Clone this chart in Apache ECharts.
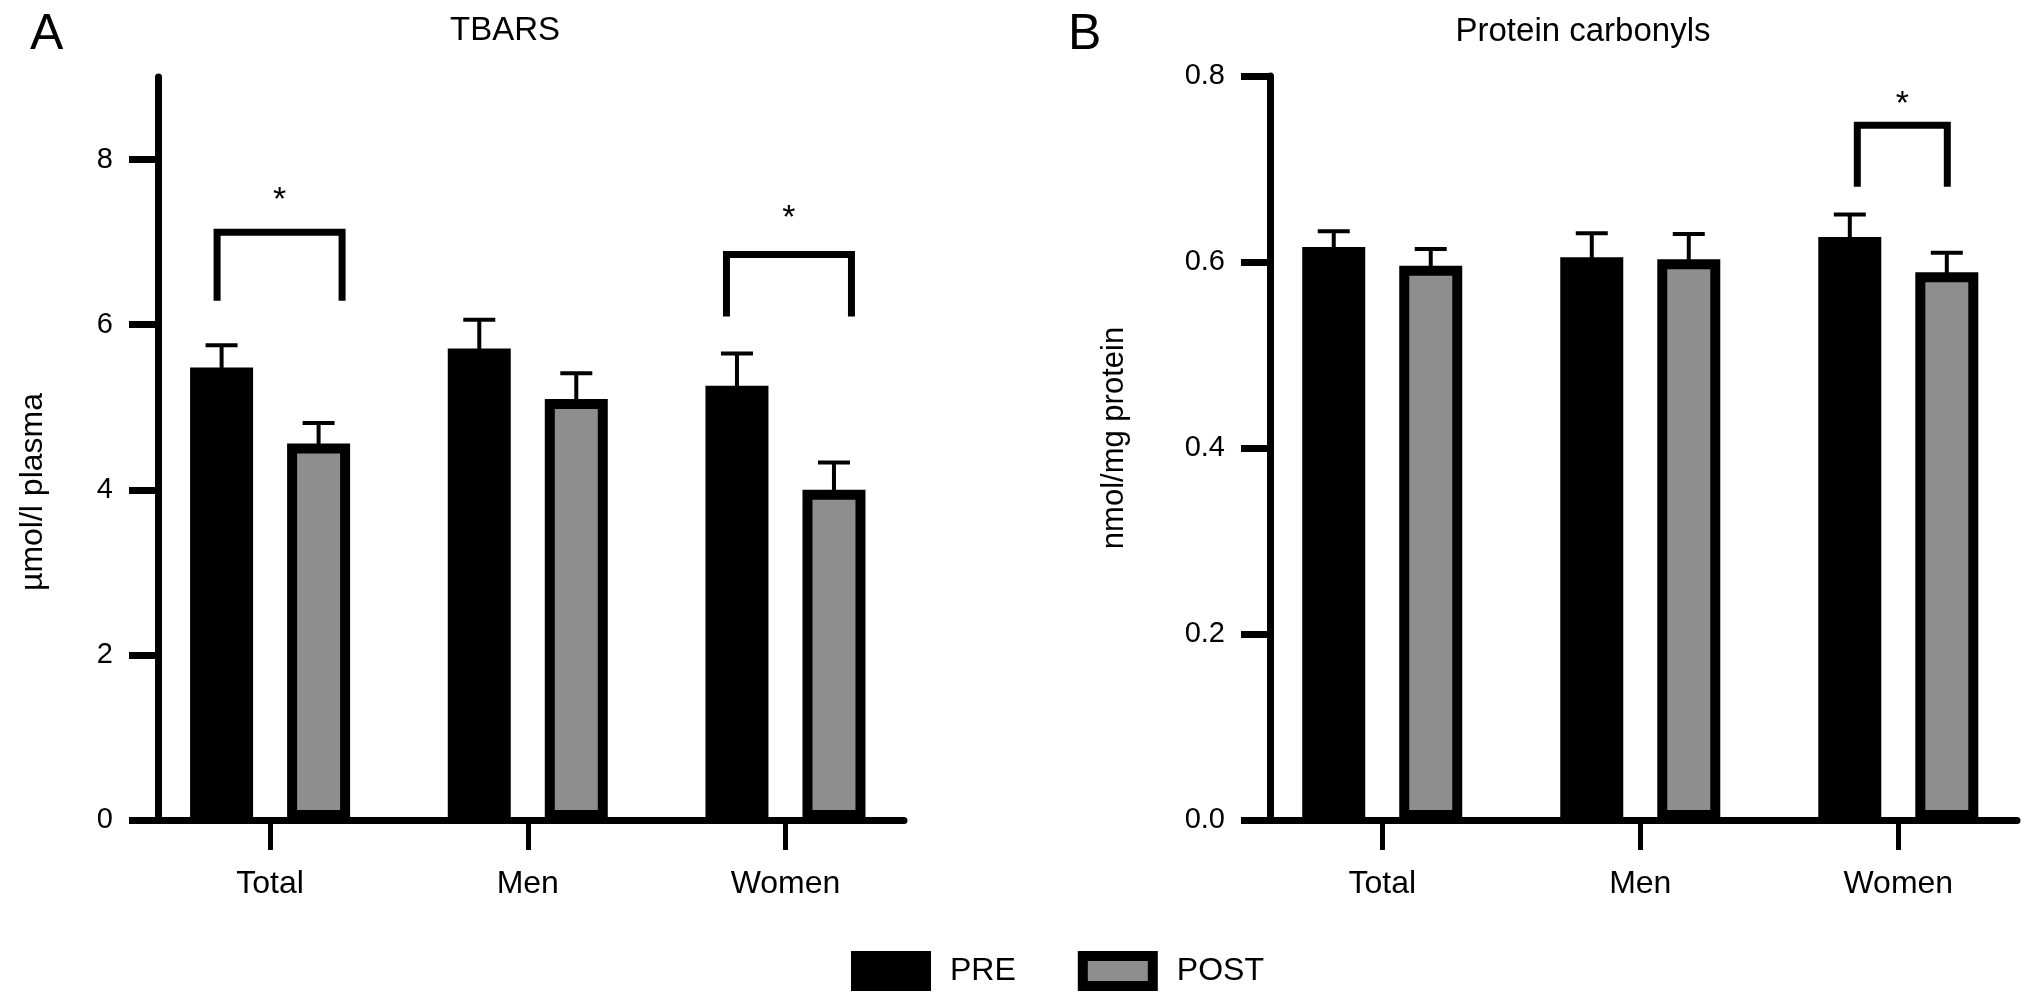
<!DOCTYPE html>
<html><head><meta charset="utf-8">
<script src="https://cdn.jsdelivr.net/npm/echarts@6/dist/echarts.min.js"></script>
<style>html,body{margin:0;padding:0;background:#fff}#chart{width:2032px;height:1000px}</style>
</head><body><div id="chart"></div>
<script>
// ---------------- DATA ----------------
const categories = ['Total', 'Men', 'Women'];
const legendNames = ['PRE', 'POST'];
// Panel A: TBARS (µmol/l plasma)
const tbarsPre     = [5.48, 5.71, 5.26];
const tbarsPost    = [4.56, 5.10, 4.00];
const tbarsPreErr  = [5.75, 6.06, 5.65];   // top of error bar (mean + SEM)
const tbarsPostErr = [4.81, 5.41, 4.33];
const tbarsTicks   = [0, 2, 4, 6, 8];
// Panel B: Protein carbonyls (nmol/mg protein)
const pcPre     = [0.616, 0.605, 0.627];
const pcPost    = [0.596, 0.603, 0.589];
const pcPreErr  = [0.633, 0.631, 0.651];
const pcPostErr = [0.614, 0.630, 0.610];
const pcTicks   = [0, 0.2, 0.4, 0.6, 0.8];
// significance brackets: [categoryIndex, legBottom, bracketTop, starLevel]
const tbarsSig = [[0, 6.29, 7.12, 7.50], [2, 6.10, 6.85, 7.29]];
const pcSig    = [[2, 0.681, 0.747, 0.769]];

// ---------------- STYLE ----------------
const FONT = 'Liberation Sans, Arial, Helvetica, sans-serif';
const BAR_W = 63, BAR_BORDER = 10, BAR_GAP_PX = 34;
const BAR_OFFSET = (BAR_W + BAR_GAP_PX) / 2;
const CAP = 32;
const PRE_COLOR = '#000000', POST_COLOR = '#8e8e8e';
// bracket leg offsets (px) from category centre, per bracket
const tbarsSigSpan = [[-53, 72], [-59, 66]];
const pcSigSpan = [[-41, 49]];

const chart = echarts.init(document.getElementById('chart'), null, {renderer: 'canvas'});

function xAxisCfg(gi) {
  return {
    type: 'value', gridIndex: gi, min: -0.435, max: 2.46,
    axisLine: {show: true, onZero: false, lineStyle: {color: '#000', width: 7}},
    axisTick: {show: true, customValues: [0, 1, 2], length: 30, lineStyle: {color: '#000', width: 5}},
    axisLabel: {show: true, customValues: [0, 1, 2], formatter: v => categories[Math.round(v)] || '',
      margin: 48, fontSize: 32, color: '#000', fontFamily: FONT},
    splitLine: {show: false}
  };
}
function yAxisCfg(gi, max, ticks, fmt) {
  return {
    type: 'value', gridIndex: gi, min: 0, max: max,
    axisLine: {show: true, onZero: false, lineStyle: {color: '#000', width: 7}},
    axisTick: {show: true, customValues: ticks, length: 29, lineStyle: {color: '#000', width: 7}},
    axisLabel: {show: true, customValues: ticks, formatter: fmt, margin: 45, fontSize: 29,
      color: '#000', fontFamily: FONT},
    splitLine: {show: false}
  };
}
function barSeries(name, gi, vals, color) {
  return {
    type: 'bar', name: name, xAxisIndex: gi, yAxisIndex: gi,
    data: vals.map((v, i) => [i, v]),
    barWidth: BAR_W, barGap: (BAR_GAP_PX / BAR_W * 100).toFixed(1) + '%',
    itemStyle: {color: color, borderColor: '#000', borderWidth: BAR_BORDER},
    emphasis: {disabled: true}, z: 2
  };
}
function errSeries(gi, pre, preErr, post, postErr) {
  const data = [];
  categories.forEach((c, i) => {
    data.push([i, pre[i], preErr[i], -1]);
    data.push([i, post[i], postErr[i], 1]);
  });
  return {
    type: 'custom', xAxisIndex: gi, yAxisIndex: gi, z: 4, silent: true, data: data,
    encode: {x: 0, y: [1, 2]},
    renderItem(params, api) {
      const x = api.value(0), s = api.value(3);
      const p0 = api.coord([x, api.value(1)]);
      const p1 = api.coord([x, api.value(2)]);
      const cx = p0[0] + s * BAR_OFFSET;
      return {type: 'group', children: [
        {type: 'line', shape: {x1: cx, y1: p0[1] + 2, x2: cx, y2: p1[1]}, style: {stroke: '#000', lineWidth: 4}},
        {type: 'line', shape: {x1: cx - CAP / 2, y1: p1[1], x2: cx + CAP / 2, y2: p1[1]}, style: {stroke: '#000', lineWidth: 4}}
      ]};
    }
  };
}
function sigSeries(gi, sig, spans) {
  return {
    type: 'custom', xAxisIndex: gi, yAxisIndex: gi, z: 4, silent: true,
    data: sig.map((d, k) => d.concat([k])),
    encode: {x: 0, y: [1, 2, 3]},
    renderItem(params, api) {
      const x = api.value(0), k = api.value(4);
      const pb = api.coord([x, api.value(1)]);
      const pt = api.coord([x, api.value(2)]);
      const ps = api.coord([x, api.value(3)]);
      const xl = pb[0] + spans[k][0], xr = pb[0] + spans[k][1];
      return {type: 'group', children: [
        {type: 'polyline', shape: {points: [[xl, pb[1]], [xl, pt[1]], [xr, pt[1]], [xr, pb[1]]]},
          style: {stroke: '#000', lineWidth: 7, fill: null, lineJoin: 'miter'}},
        {type: 'text', x: (xl + xr) / 2, y: ps[1],
          style: {text: '*', fontSize: 34, fontFamily: FONT, fill: '#000', align: 'center', verticalAlign: 'middle'}}
      ]};
    }
  };
}

const option = {
  backgroundColor: '#fff',
  animation: false,
  grid: [
    {left: 158, right: 2032 - 904, top: 77, bottom: 1000 - 820},
    {left: 1270, right: 2032 - 2017, top: 76, bottom: 1000 - 820}
  ],
  xAxis: [xAxisCfg(0), xAxisCfg(1)],
  yAxis: [
    yAxisCfg(0, 9, tbarsTicks, v => String(v)),
    yAxisCfg(1, 0.8, pcTicks, v => v.toFixed(1))
  ],
  legend: {
    data: legendNames, left: 851, top: 951, padding: 0, orient: 'horizontal',
    itemWidth: 70, itemHeight: 30, itemGap: 62, icon: 'rect',
    itemStyle: {borderWidth: 10, borderColor: '#000'},
    textStyle: {fontSize: 32, color: '#000', fontFamily: FONT, padding: [0, 0, 0, 19]},
    selectedMode: false
  },
  graphic: [
    {type: 'text', left: 30, top: 10, style: {text: 'A', fontSize: 50, fontFamily: FONT, fill: '#000'}},
    {type: 'text', left: 1068, top: 10, style: {text: 'B', fontSize: 50, fontFamily: FONT, fill: '#000'}},
    {type: 'text', x: 505, y: 31, style: {text: 'TBARS', fontSize: 33, fontFamily: FONT, fill: '#000', align: 'center', verticalAlign: 'middle'}},
    {type: 'text', x: 1583, y: 32, style: {text: 'Protein carbonyls', fontSize: 33, fontFamily: FONT, fill: '#000', align: 'center', verticalAlign: 'middle'}},
    {type: 'text', x: 33, y: 492, rotation: Math.PI / 2, style: {text: 'µmol/l plasma', fontSize: 32, fontFamily: FONT, fill: '#000', align: 'center', verticalAlign: 'middle'}},
    {type: 'text', x: 1114, y: 438, rotation: Math.PI / 2, style: {text: 'nmol/mg protein', fontSize: 31, fontFamily: FONT, fill: '#000', align: 'center', verticalAlign: 'middle'}}
  ],
  series: [
    barSeries('PRE', 0, tbarsPre, PRE_COLOR),
    barSeries('POST', 0, tbarsPost, POST_COLOR),
    errSeries(0, tbarsPre, tbarsPreErr, tbarsPost, tbarsPostErr),
    sigSeries(0, tbarsSig, tbarsSigSpan),
    barSeries('PRE', 1, pcPre, PRE_COLOR),
    barSeries('POST', 1, pcPost, POST_COLOR),
    errSeries(1, pcPre, pcPreErr, pcPost, pcPostErr),
    sigSeries(1, pcSig, pcSigSpan)
  ]
};
chart.setOption(option);
</script>
</body></html>
